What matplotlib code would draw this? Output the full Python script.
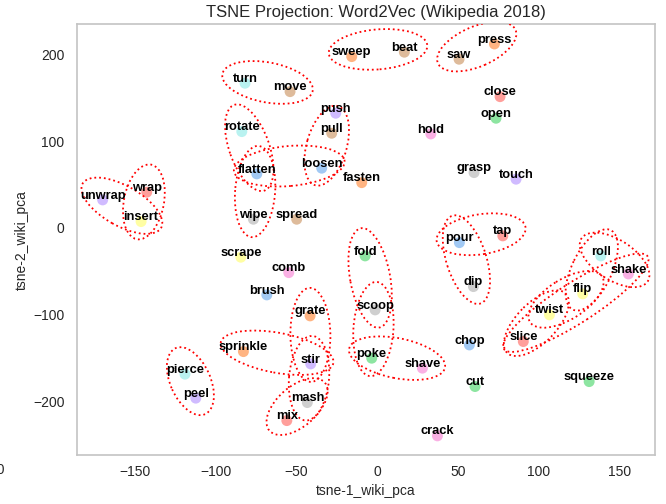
import numpy as np
import matplotlib
matplotlib.use("Agg")
import matplotlib.pyplot as plt
from matplotlib.patches import Ellipse
from matplotlib.transforms import IdentityTransform

plt.rcParams['font.family'] = ['Liberation Sans', 'DejaVu Sans']

# words and their tsne coordinates
words = ['sweep', 'beat', 'saw', 'press', 'turn', 'move', 'push', 'rotate', 'pull',
         'flatten', 'loosen', 'fasten', 'close', 'open', 'hold', 'grasp', 'touch',
         'unwrap', 'wrap', 'insert', 'wipe', 'spread', 'scrape', 'comb', 'brush',
         'fold', 'pour', 'tap', 'dip', 'roll', 'shake', 'flip', 'twist', 'slice',
         'scoop', 'grate', 'sprinkle', 'stir', 'poke', 'shave', 'chop', 'cut',
         'squeeze', 'pierce', 'peel', 'mash', 'mix', 'crack']
xs = [-15.7, 16.9, 50.8, 72.7, -81.8, -53.9, -25.6, -83.8, -28.1,
      -74.5, -34.3, -9.5, 76.2, 73.7, 33.3, 60.1, 86.1,
      -170.0, -142.7, -146.2, -76.6, -49.8, -84.4, -54.7, -68.3,
      -7.4, 51.0, 77.9, 59.7, 138.6, 155.7, 127.4, 106.8, 90.6,
      -1.2, -41.5, -82.8, -41.1, -3.3, 28.1, 57.2, 60.7,
      131.4, -119.0, -112.3, -43.2, -55.9, 37.4]
ys = [197.6, 202.7, 194.6, 212.2, 166.9, 157.2, 132.3, 111.1, 109.2,
      62.3, 68.9, 52.2, 151.4, 126.5, 108.4, 63.8, 56.2,
      32.3, 41.2, 7.3, 10.0, 10.0, -33.8, -51.6, -77.3,
      -32.3, -17.0, -9.2, -67.7, -32.3, -53.1, -76.1, -100.3, -131.1,
      -94.6, -101.5, -142.7, -156.9, -150.3, -161.8, -135.0, -183.0,
      -177.3, -168.7, -196.4, -201.5, -222.3, -239.9]
hues = ['orange', 'brown', 'brown', 'orange', 'cyan', 'brown', 'purple', 'cyan', 'brown',
        'blue', 'blue', 'orange', 'red', 'green', 'pink', 'gray', 'purple',
        'purple', 'red', 'yellow', 'gray', 'brown', 'yellow', 'pink', 'blue',
        'green', 'blue', 'red', 'gray', 'cyan', 'pink', 'yellow', 'yellow', 'red',
        'gray', 'orange', 'orange', 'purple', 'green', 'pink', 'blue', 'green',
        'green', 'cyan', 'purple', 'gray', 'red', 'pink']

# seaborn "pastel" colours
pastel = {'blue': '#a1c9f4', 'orange': '#ffb482', 'green': '#8de5a1', 'red': '#ff9f9b',
          'purple': '#d0bbff', 'brown': '#debb9b', 'pink': '#fab0e4', 'gray': '#cfcfcf',
          'yellow': '#fffea3', 'cyan': '#b9f2f0'}

# word pairs that are circled
pairs = [('sweep', 'beat'), ('saw', 'press'), ('turn', 'move'),
         ('rotate', 'flatten'), ('flatten', 'wipe'), ('flatten', 'loosen'), ('pull', 'loosen'),
         ('unwrap', 'insert'), ('wrap', 'insert'),
         ('pour', 'tap'), ('pour', 'dip'),
         ('fold', 'scoop'), ('scoop', 'poke'), ('poke', 'shave'),
         ('grate', 'stir'), ('sprinkle', 'stir'), ('stir', 'mash'), ('mash', 'mix'),
         ('pierce', 'peel'),
         ('roll', 'shake'), ('roll', 'flip'), ('flip', 'twist'), ('twist', 'slice'),
         ('slice', 'shake')]

fig = plt.figure(figsize=(6.66, 5.04), dpi=100)
ax = fig.add_axes([0.1156, 0.0972, 0.8679, 0.8548])

ax.scatter(xs, ys, s=62, c=[pastel[h] for h in hues], linewidths=0, zorder=2)
for w, x, y in zip(words, xs, ys):
    ax.annotate(w, (x, y), xytext=(0, 1), textcoords='offset points',
                ha='center', va='baseline', fontsize=9.3, fontweight='bold',
                color='black', zorder=4)

ax.set_xlim(-185.9, 172.2)
ax.set_ylim(-262, 235)
ax.set_xticks([-150, -100, -50, 0, 50, 100, 150])
ax.set_yticks([-200, -100, 0, 100, 200])
ax.tick_params(length=0, labelsize=10, labelcolor='#262626')
ax.tick_params(axis='x', pad=7)
ax.tick_params(axis='y', pad=9)
for sp in ax.spines.values():
    sp.set_color('#c4c4c4')
    sp.set_linewidth(1.2)

ax.set_title('TSNE Projection: Word2Vec (Wikipedia 2018)', fontsize=12,
             color='#262626', pad=5, x=0.517)
ax.set_xlabel('tsne-1_wiki_pca', fontsize=10, color='#262626', labelpad=4)
ax.set_ylabel('tsne-2_wiki_pca', fontsize=10, color='#262626', labelpad=3)
fig.text(0.008, 0.068, '\u2212200', ha='right', va='center', fontsize=10, color='#262626')

# dotted ellipses around pairs, built in pixel space
pos = dict(zip(words, zip(xs, ys)))
for a, b in pairs:
    p1, p2 = ax.transData.transform([pos[a], pos[b]])
    d = p2 - p1
    dist = np.hypot(d[0], d[1])
    ang = np.degrees(np.arctan2(d[1], d[0]))
    c = (p1 + p2) / 2 + np.array([0, 5])
    e = Ellipse(c, dist + 46, 40, angle=ang, transform=IdentityTransform(),
                fill=False, edgecolor='red', linestyle=':', linewidth=1.3, zorder=3)
    ax.add_artist(e)

fig.savefig('out.png', dpi=100)
